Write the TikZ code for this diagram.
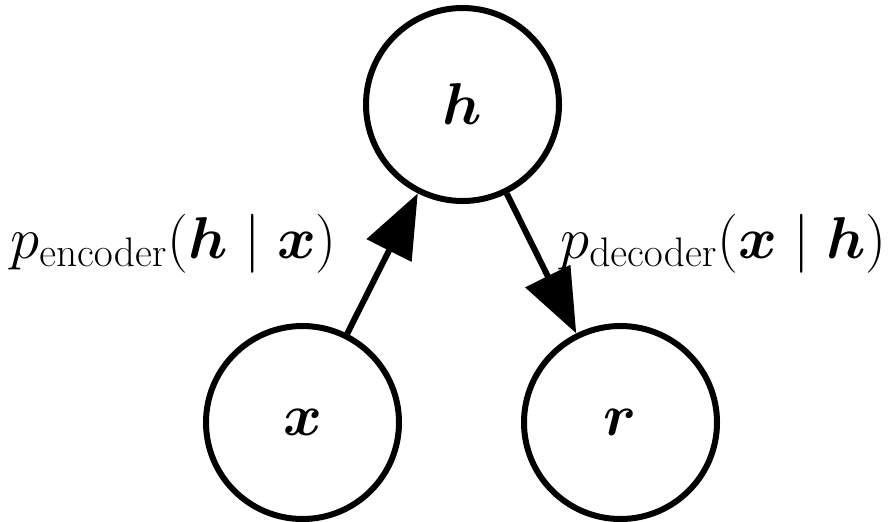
\documentclass[tikz,border=0pt]{standalone}
\usepackage{fix-cm}
\usepackage{amsmath}
\usepackage{bm}
\usetikzlibrary{arrows.meta}
\begin{document}
\begin{tikzpicture}[x=0.5pt,y=-0.5pt,
  var/.style={circle,draw=black,line width=3pt,minimum size=96.5pt,inner sep=0pt,
    font=\fontsize{29.5}{35}\selectfont},
  lbl/.style={inner sep=0pt,font=\fontsize{29.5}{35}\selectfont},
  edge/.style={line width=3pt,-{Triangle[length=32pt,width=24.5pt]}}]
\useasboundingbox (0,0) rectangle (889,521);
\node[var] (h) at (462.5,104.5) {$\bm{h}$};
\node[var] (x) at (302.5,422.5) {$\bm{x}$};
\node[var] (r) at (620.5,422.5) {$\bm{r}$};
\draw[edge] (x) -- (h);
\draw[edge] (h) -- (r);
\node[lbl,anchor=base west] (enc) at (10,258) {$p_{\mathrm{encoder}}(\bm{h}\mid\bm{x})$};
\node[lbl,anchor=base west] (dec) at (560,258) {$p_{\mathrm{decoder}}(\bm{x}\mid\bm{h})$};
\end{tikzpicture}
\end{document}
